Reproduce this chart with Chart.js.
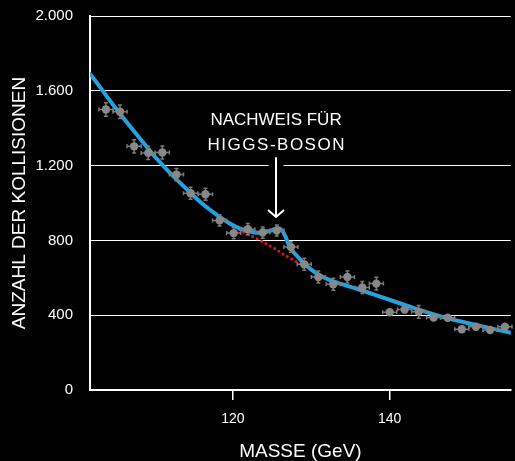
<!DOCTYPE html>
<html lang="de">
<head>
<meta charset="utf-8">
<title>Higgs-Nachweis</title>
<script src="https://cdn.jsdelivr.net/npm/chart.js@4.4.1/dist/chart.umd.min.js"></script>
<style>
  html, body { margin: 0; padding: 0; background: #000; }
  canvas { display: block; }
</style>
</head>
<body>
<canvas id="chartHiggs" width="515" height="461"></canvas>
<script>
// Messpunkte: Masse (GeV), Anzahl der Kollisionen, Fehler
const masse = [103.8, 105.6, 107.4, 109.2, 111.0, 112.8, 114.6, 116.5, 118.3, 120.1,
  121.9, 123.8, 125.6, 127.4, 129.1, 130.9, 132.8, 134.6, 136.5, 138.3,
  140.0, 141.9, 143.7, 145.6, 147.4, 149.2, 151.0, 152.8, 154.7];
const anzahl = [1500, 1488, 1303, 1268, 1270, 1152, 1052, 1047, 907, 839,
  860, 842, 853, 765, 672, 604, 565, 604, 548, 569,
  416, 430, 418, 388, 386, 325, 338, 321, 338];
const fehler = [36, 36, 35, 35, 35, 33, 32, 32, 30, 30,
  30, 30, 30, 28, 32, 32, 32, 32, 32, 34,
  15, 15, 34, 15, 15, 15, 15, 15, 15];
const binHalbe = 0.9;

// Fitkurve (blau)
const fitMasse = [101.5, 102, 104, 106, 108, 110, 112, 114, 116, 118,
  119.6, 121.1, 123.2, 124.9, 125.8, 126.4, 127.3, 128.5, 129.5, 130.8,
  132, 133.3, 135.9, 138.4, 141, 143.5, 146.8, 151, 155.5, 156];
const fitAnzahl = [1700, 1678, 1565, 1456, 1352, 1250, 1160, 1078, 1000, 935,
  890, 860, 841, 853, 865, 845, 762, 702, 660, 620,
  594, 574, 540, 505, 468, 432, 390, 348, 306, 302];

// Untergrund ohne Higgs (rot gepunktet)
const untergrundMasse = [119.2, 121, 123.2, 125.3, 127, 128.5, 130];
const untergrundAnzahl = [900, 852, 806, 757, 712, 678, 650];

const xTicks = [120, 140];
const yTicks = [0, 400, 800, 1200, 1600, 2000];

// Pfeil + Beschriftung (Datenkoordinaten)
const pfeilMasse = 125.5;
const pfeilOben = 1244;
const pfeilSpitze = 925;
const textZeile1 = 1419;
const textZeile2 = 1285;

const FONT = '"Liberation Sans", Arial, Helvetica, sans-serif';
Chart.defaults.font.family = FONT;
Chart.defaults.color = '#fff';

const tausender = (v) => String(v).replace(/\B(?=(\d{3})+(?!\d))/g, '.');

const fehlerBalken = {
  id: 'fehlerBalken',
  beforeDatasetDraw(chart, args) {
    if (args.index !== 0) return;
    const { ctx, scales: { x, y } } = chart;
    ctx.save();
    ctx.strokeStyle = '#7a7a7a';
    ctx.lineWidth = 1.5;
    masse.forEach((m, i) => {
      const px = x.getPixelForValue(m);
      const py = y.getPixelForValue(anzahl[i]);
      const x0 = x.getPixelForValue(m - binHalbe);
      const x1 = x.getPixelForValue(m + binHalbe);
      const y0 = y.getPixelForValue(anzahl[i] - fehler[i]);
      const y1 = y.getPixelForValue(anzahl[i] + fehler[i]);
      ctx.beginPath();
      ctx.moveTo(x0, py); ctx.lineTo(x1, py);
      ctx.moveTo(px, y0); ctx.lineTo(px, y1);
      ctx.moveTo(x0, py - 2); ctx.lineTo(x0, py + 2);
      ctx.moveTo(x1, py - 2); ctx.lineTo(x1, py + 2);
      ctx.moveTo(px - 2, y0); ctx.lineTo(px + 2, y0);
      ctx.moveTo(px - 2, y1); ctx.lineTo(px + 2, y1);
      ctx.stroke();
    });
    ctx.restore();
  },
};

const hinweis = {
  id: 'hinweis',
  beforeDatasetsDraw(chart) {
    const { ctx, scales: { x, y } } = chart;
    const px = x.getPixelForValue(pfeilMasse);
    const top = y.getPixelForValue(pfeilOben);
    const tip = y.getPixelForValue(pfeilSpitze);
    ctx.save();
    // schwarzer Rand unterbricht die Gitterlinie
    ctx.strokeStyle = '#000';
    ctx.lineWidth = 15;
    ctx.beginPath();
    ctx.moveTo(px, top);
    ctx.lineTo(px, tip - 12);
    ctx.stroke();

    ctx.strokeStyle = '#fff';
    ctx.lineWidth = 2;
    ctx.beginPath();
    ctx.moveTo(px, top);
    ctx.lineTo(px, tip);
    ctx.moveTo(px - 8, tip - 7);
    ctx.lineTo(px, tip);
    ctx.lineTo(px + 8, tip - 7);
    ctx.stroke();

    ctx.fillStyle = '#fff';
    ctx.font = '17px ' + FONT;
    ctx.textAlign = 'center';
    ctx.textBaseline = 'alphabetic';
    ctx.fillText('NACHWEIS FÜR', px, y.getPixelForValue(textZeile1));
    ctx.letterSpacing = '1.5px';
    ctx.fillText('HIGGS-BOSON', px + 0.75, y.getPixelForValue(textZeile2));
    ctx.restore();
  },
};

new Chart(document.getElementById('chartHiggs'), {
  type: 'scatter',
  data: {
    datasets: [
      {
        data: masse.map((m, i) => ({ x: m, y: anzahl[i] })),
        backgroundColor: '#888888',
        borderWidth: 0,
        pointRadius: 4.2,
        order: 0,
      },
      {
        data: fitMasse.map((m, i) => ({ x: m, y: fitAnzahl[i] })),
        showLine: true,
        borderColor: '#27a1de',
        borderWidth: 4,
        pointRadius: 0,
        cubicInterpolationMode: 'monotone',
        clip: 0,
        order: 1,
      },
      {
        data: untergrundMasse.map((m, i) => ({ x: m, y: untergrundAnzahl[i] })),
        showLine: true,
        borderColor: '#e8141c',
        borderWidth: 3,
        borderDash: [0, 5],
        borderCapStyle: 'round',
        pointRadius: 0,
        cubicInterpolationMode: 'monotone',
        order: 2,
      },
    ],
  },
  options: {
    responsive: false,
    animation: false,
    events: [],
    devicePixelRatio: 1,
    layout: { padding: { top: 16, right: 0, bottom: 0, left: 0 } },
    plugins: {
      legend: { display: false },
      tooltip: { enabled: false },
    },
    scales: {
      x: {
        type: 'linear',
        min: 101.77,
        max: 155.45,
        afterBuildTicks: (s) => { s.ticks = xTicks.map((v) => ({ value: v })); },
        afterFit: (s) => { s.height = 71; },
        grid: { drawOnChartArea: false, drawTicks: true, tickLength: 10, color: '#fff', lineWidth: 1.5 },
        border: { color: '#fff', width: 2 },
        ticks: { color: '#fff', font: { size: 14 }, padding: 11 },
        title: {
          display: true,
          text: 'MASSE (GeV)',
          color: '#fff',
          font: { size: 19, lineHeight: 1 },
          padding: { top: 0, bottom: 0 },
        },
      },
      y: {
        min: 0,
        max: 2000,
        afterBuildTicks: (s) => { s.ticks = yTicks.map((v) => ({ value: v })); },
        afterFit: (s) => {
          s.width = 90;
          s.paddingTop = 0;
          s.paddingBottom = 0;
        },
        grid: { color: '#fff', lineWidth: 1, drawTicks: false },
        border: { color: '#fff', width: 2 },
        ticks: { color: '#fff', font: { size: 15 }, padding: 17, callback: (v) => tausender(v) },
        title: {
          display: true,
          text: 'ANZAHL DER KOLLISIONEN',
          color: '#fff',
          font: { size: 19, lineHeight: 1 },
          padding: { top: 10, bottom: 0 },
        },
      },
    },
  },
  plugins: [fehlerBalken, hinweis],
});
</script>
</body>
</html>
